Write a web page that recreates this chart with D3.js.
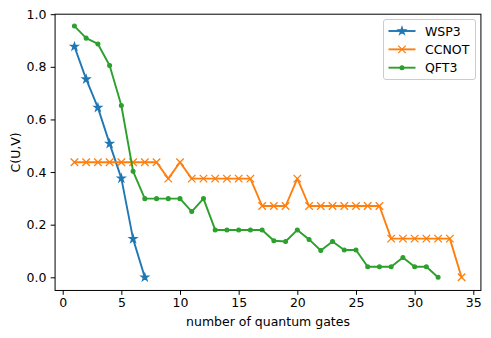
<!DOCTYPE html>
<html><head><meta charset="utf-8">
<script src="https://cdn.jsdelivr.net/npm/d3@7"></script>
<style>body{margin:0;background:#fff}svg{display:block}text{font-family:"DejaVu Sans",sans-serif}</style>
</head><body><svg id="c" width="491" height="338"></svg>
<script>
const xTicks = [0,5,10,15,20,25,30,35];
const yTicks = [0.0,0.2,0.4,0.6,0.8,1.0];
const seriesNames = ["WSP3","CCNOT","QFT3"];
const colors = ["#1f77b4","#ff7f0e","#2ca02c"];
const wsp3X = [1,2,3,4,5,6,7];
const wsp3Y = [0.877,0.753,0.645,0.508,0.376,0.146,0.0];
const ccnotX = d3.range(1,35);
const ccnotY = [0.4375,0.4375,0.4375,0.4375,0.4375,0.4375,0.4375,0.4375,0.375,0.4375,
  0.375,0.375,0.375,0.375,0.375,0.375,0.271,0.271,0.271,0.375,
  0.271,0.271,0.271,0.271,0.271,0.271,0.271,0.147,0.147,0.147,
  0.147,0.147,0.147,0.0];
const qft3X = d3.range(1,33);
const qft3Y = [0.955,0.909,0.887,0.805,0.653,0.403,0.299,0.299,0.299,0.299,
  0.25,0.299,0.18,0.18,0.18,0.18,0.18,0.139,0.136,0.18,
  0.144,0.102,0.136,0.104,0.104,0.04,0.04,0.04,0.075,0.04,
  0.04,0.0];

const FS = "12.5px";
const svg = d3.select("#c");
const x = d3.scaleLinear().domain([0,35]).range([62.7,473.3]);
const y = d3.scaleLinear().domain([0,1]).range([277.3,14.2]);
const x0 = x(-0.65), x1 = x(35.65), yT = y(1.0), yB = y(-0.05);

// axes
const gx = svg.append("g").attr("transform",`translate(0,${yB})`)
  .call(d3.axisBottom(x).tickValues(xTicks).tickSize(4.4).tickPadding(3.6).tickFormat(d3.format("d")));
const gy = svg.append("g").attr("transform",`translate(${x0},0)`)
  .call(d3.axisLeft(y).tickValues(yTicks).tickSize(4.4).tickPadding(4.2).tickFormat(d3.format(".1f")));
[gx,gy].forEach(g=>{
  g.select(".domain").remove();
  g.selectAll("line").attr("stroke","#000").attr("stroke-width",1);
  g.selectAll("text").attr("font-size",FS).attr("fill","#000").style("font-family","DejaVu Sans");
});

const lineGen = d3.line().x(d=>x(d[0])).y(d=>y(d[1]));
const data = [
  d3.zip(wsp3X,wsp3Y),
  d3.zip(ccnotX,ccnotY),
  d3.zip(qft3X,qft3Y)
];
const plot = svg.append("g");
function marker(g, type, color, cx, cy){
  if(type===0){
    g.append("path").attr("d",d3.symbol().type(d3.symbolStar).size(17)())
      .attr("transform",`translate(${cx},${cy})`).attr("fill",color).attr("stroke",color)
      .attr("stroke-width",1.25).attr("stroke-linejoin","miter");
  } else if(type===1){
    const r=3.75;
    g.append("path").attr("d",`M${cx-r},${cy-r}L${cx+r},${cy+r}M${cx-r},${cy+r}L${cx+r},${cy-r}`)
      .attr("stroke",color).attr("stroke-width",1.3).attr("fill","none");
  } else {
    g.append("circle").attr("cx",cx).attr("cy",cy).attr("r",1.9).attr("fill",color)
      .attr("stroke",color).attr("stroke-width",1.25);
  }
}
data.forEach((pts,i)=>{
  plot.append("path").datum(pts).attr("d",lineGen).attr("fill","none")
    .attr("stroke",colors[i]).attr("stroke-width",1.9).attr("stroke-linejoin","round").attr("stroke-linecap","square");
  pts.forEach(p=>marker(plot,i,colors[i],x(p[0]),y(p[1])));
});

// frame
svg.append("rect").attr("x",x0).attr("y",yT).attr("width",x1-x0).attr("height",yB-yT)
  .attr("fill","none").attr("stroke","#000").attr("stroke-width",1);

// legend
const lg = svg.append("g");
lg.append("rect").attr("x",383.5).attr("y",19.5).attr("width",92).attr("height",60).attr("rx",2.5)
  .attr("fill","#fff").attr("fill-opacity",0.8).attr("stroke","#ccc").attr("stroke-width",1);
seriesNames.forEach((n,i)=>{
  const ly = 31 + i*18.35;
  lg.append("line").attr("x1",388.5).attr("x2",415.5).attr("y1",ly).attr("y2",ly)
    .attr("stroke",colors[i]).attr("stroke-width",1.9);
  marker(lg,i,colors[i],402,ly);
  lg.append("text").attr("x",425).attr("y",ly+4.5).attr("font-size",FS).text(n);
});

// labels
svg.append("text").attr("x",(x0+x1)/2).attr("y",326).attr("text-anchor","middle")
  .attr("font-size",FS).text("number of quantum gates");
svg.append("text").attr("transform",`translate(19.5,${(yT+yB)/2}) rotate(-90)`).attr("text-anchor","middle")
  .attr("font-size",FS).text("C(U,V)");
</script></body></html>
